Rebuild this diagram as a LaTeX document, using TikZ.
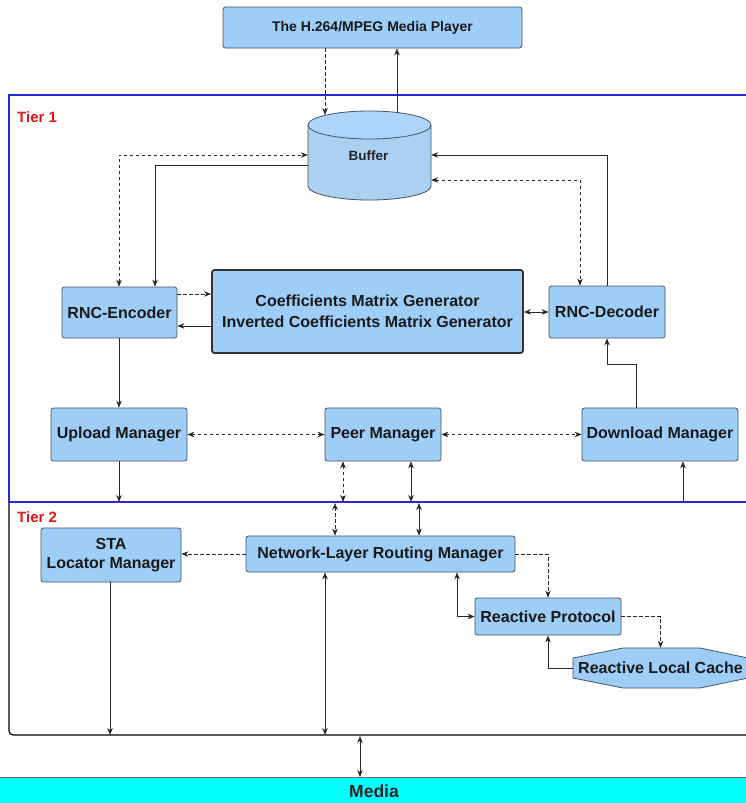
\documentclass[tikz,border=0pt]{standalone}
\usepackage{fontspec}
\setmainfont{Liberation Sans}
\usetikzlibrary{arrows.meta,calc}
\definecolor{boxfill}{RGB}{158,205,248}
\definecolor{boxline}{RGB}{70,84,100}
\definecolor{cylfill}{RGB}{170,208,242}
\definecolor{tierblue}{RGB}{40,40,215}
\definecolor{tierred}{RGB}{230,20,25}
\definecolor{linec}{RGB}{40,40,40}
\definecolor{mediacyan}{RGB}{0,255,255}
\tikzset{
  box/.style={draw=boxline, fill=boxfill, rounded corners=2.5pt, inner sep=0pt, line width=0.8pt,
    font=\bfseries\fontsize{16}{19}\selectfont, align=center, text=black!90},
  conn/.style={draw=linec, line width=0.7pt, -{Stealth[length=7pt,width=5.5pt]}},
  bconn/.style={draw=linec, line width=0.7pt, {Stealth[length=7pt,width=5.5pt]}-{Stealth[length=7pt,width=5.5pt]}},
  dconn/.style={conn, dash pattern=on 3.5pt off 2.5pt},
  dbconn/.style={bconn, dash pattern=on 3.5pt off 2.5pt},
  tierlabel/.style={anchor=west, text=tierred, font=\bfseries\fontsize{15}{17}\selectfont, inner sep=0pt}
}
\begin{document}
\begin{tikzpicture}[x=1pt,y=-1pt]
\useasboundingbox (0,0) rectangle (746,803);
\fill[white] (0,0) rectangle (746,803);

% tier frames
\draw[black, line width=1.2pt, rounded corners=4pt] (9,502) -- (9,735) -- (780,735);
\draw[tierblue, line width=1.5pt] (780,95) -- (9,95) -- (9,502) -- (780,502);
\node[tierlabel] (t1) at (17,117) {Tier 1};
\node[tierlabel] (t2) at (17,517) {Tier 2};

% boundary coordinates
\coordinate (b1) at (119,502);
\coordinate (b2) at (683,502);
\coordinate (bp1) at (343,502);
\coordinate (bp2) at (411,502);
\coordinate (bn1) at (335,503);
\coordinate (bn2) at (419,503);
\coordinate (bs) at (110,735);
\coordinate (bn) at (325,735);
\coordinate (bm) at (360,736);
\coordinate (mtop) at (360,777);

% media player
\node[box, minimum width=299pt, minimum height=41pt, font=\bfseries\fontsize{14}{17}\selectfont] (mp) at (372.5,27.5) {The H.264/MPEG Media Player};

% buffer cylinder
\filldraw[fill=cylfill, draw=boxline, line width=0.8pt] (308,125) -- (308,186) arc[start angle=180, end angle=0, x radius=61.5, y radius=14] -- (431,125);
\filldraw[fill=boxfill!85!white, draw=boxline, line width=0.8pt] (369.5,125) ellipse[x radius=61.5, y radius=14];
\node[minimum width=123pt, minimum height=90pt, inner sep=0pt] (buf) at (369.5,155) {};
\node[font=\bfseries\fontsize{13.5}{16}\selectfont, text=black!85, inner sep=0pt] (buft) at (368.5,156) {Buffer};
\coordinate (buftopA) at (325,115);
\coordinate (buftopB) at (397,112.5);

% tier 1 boxes
\node[box, minimum width=115pt, minimum height=51pt] (enc) at (119.5,312.5) {RNC-Encoder};
\node[box, minimum width=311pt, minimum height=83pt, line width=1.8pt, draw=black!80, font=\bfseries\fontsize{16}{21}\selectfont] (cmg) at (367.5,311.5) {Coefficients Matrix Generator\\Inverted Coefficients Matrix Generator};
\node[box, minimum width=116pt, minimum height=52pt] (dec) at (607,312) {RNC-Decoder};
\node[box, minimum width=136pt, minimum height=53pt] (up) at (119,434.5) {Upload Manager};
\node[box, minimum width=116pt, minimum height=53pt] (peer) at (383,434.5) {Peer Manager};
\node[box, minimum width=156pt, minimum height=53pt] (down) at (660,434.5) {Download Manager};

% tier 2 boxes
\node[box, minimum width=140pt, minimum height=54pt] (sta) at (111,555) {STA\\Locator Manager};
\node[box, minimum width=269pt, minimum height=36pt] (nlrm) at (380.5,554) {Network-Layer Routing Manager};
\node[box, minimum width=146pt, minimum height=37pt] (rp) at (548,616.5) {Reactive Protocol};
\filldraw[fill=boxfill, draw=boxline, line width=0.8pt] (573,658) -- (623,648) -- (700,648) -- (748,658) -- (748,678) -- (700,688) -- (623,688) -- (573,678) -- cycle;
\node[minimum width=175pt, minimum height=40pt, inner sep=0pt, font=\bfseries\fontsize{16}{19}\selectfont, text=black!90] (cache) at (660.5,668) {Reactive Local Cache};

% media bar
\filldraw[fill=mediacyan, draw=black!60, line width=0.8pt] (-2,777) rectangle (750,806);
\node[font=\bfseries\fontsize{17.5}{20}\selectfont, text=black!85, inner sep=0pt] (media) at (374,791.5) {Media};

% connectors top
\draw[dconn] (mp.south -| buftopA) -- (buftopA);
\draw[conn] (buftopB) -- (mp.south -| buftopB);
\draw[dbconn] (enc.north -| 119,0) |- (buf.west);
\draw[conn] (buf.west |- 0,165) -| (enc.north -| 155,0);
\draw[conn] (dec.north) |- (buf.east);
\draw[dbconn] (buf.east |- 0,180) -| (dec.north -| 580,0);

% around CMG
\draw[dconn] (enc.east |- 0,294) -- (cmg.west |- 0,294);
\draw[conn] (cmg.west |- 0,326) -- (enc.east |- 0,326);
\draw[bconn] (cmg.east |- 0,312) -- (dec.west |- 0,312);

% to managers
\draw[conn] (enc.south -| up.north) -- (up.north);
\draw[conn] (down.north -| 636,0) -- (636,364) -| (dec.south);
\draw[dbconn] (up.east) -- (peer.west);
\draw[dbconn] (peer.east) -- (down.west);

% tier boundary
\draw[conn] (up.south) -- (b1);
\draw[dbconn] (peer.south -| bp1) -- (bp1);
\draw[bconn] (peer.south -| bp2) -- (bp2);
\draw[conn] (b2) -- (down.south -| b2);
\draw[dbconn] (bn1) -- (nlrm.north -| bn1);
\draw[bconn] (bn2) -- (nlrm.north -| bn2);

% tier 2 connectors
\draw[dconn] (nlrm.west) -- (sta.east |- nlrm.west);
\draw[dconn] (nlrm.east) -| (rp.north);
\draw[bconn] (nlrm.south -| 457,0) |- (rp.west);
\draw[dconn] (rp.east) -| (cache.north);
\draw[conn] (cache.west) -| (rp.south);
\draw[conn] (sta.south -| bs) -- (bs);
\draw[bconn] (nlrm.south -| bn) -- (bn);
\draw[bconn] (bm) -- (mtop);
\end{tikzpicture}
\end{document}
